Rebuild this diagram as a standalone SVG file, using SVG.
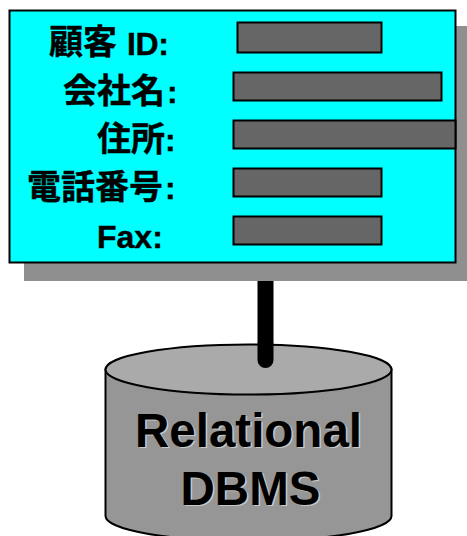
<svg xmlns="http://www.w3.org/2000/svg" width="467" height="536" viewBox="0 0 467 536">
<style>
.f{fill:#666;stroke:#000;stroke-width:2}
.l{font-family:"Liberation Sans","Noto Sans CJK JP",sans-serif;font-weight:bold;font-size:34px;fill:#000;stroke:#000;stroke-width:.4}
.a{font-size:32px}
.d{font-family:"Liberation Sans",sans-serif;font-weight:bold;font-size:47.500px;text-anchor:middle}
</style>
<rect width="467" height="536" fill="#fff"/>
<g id="connectors">
<path d="M265.500 270V360" fill="none" stroke="#000" stroke-width="16" stroke-linecap="round"/>
</g>
<g id="form">
<rect x="24" y="26" width="443" height="255" fill="#8f8f8f"/>
<rect x="9.500" y="10.500" width="446" height="252" fill="#0ff" stroke="#000" stroke-width="2"/>
</g>
<g id="fields">
<rect class="f" x="237.500" y="22.500" width="144" height="30"/>
<rect class="f" x="233.500" y="72.500" width="208" height="28"/>
<rect class="f" x="233.500" y="120.500" width="222" height="28"/>
<rect class="f" x="233.500" y="168.500" width="148" height="28"/>
<rect class="f" x="233.500" y="216.500" width="148" height="28"/>
</g>
<g id="labels">
<text class="l" x="49" y="54">顧客<tspan class="a" x="127" y="55" textLength="42">ID:</tspan></text>
<text class="l" x="63" y="103">会社名<tspan class="a" x="167">:</tspan></text>
<text class="l" x="97" y="151">住所<tspan class="a" x="165">:</tspan></text>
<text class="l" x="27" y="199">電話番号<tspan class="a" x="165">:</tspan></text>
<text class="l" x="97" y="248" style="font-size:32px">Fax:</text>
</g>
<g id="database">
<path d="M105.500 369.500V516a143 25 0 0 0 286 0V369.500Z" fill="#969696" stroke="#000" stroke-width="2"/>
<ellipse cx="248.500" cy="369.500" rx="143" ry="25" fill="#aaa" stroke="#000" stroke-width="2"/>
<path d="M265.500 345V360" fill="none" stroke="#000" stroke-width="16" stroke-linecap="round"/>
<g class="d">
<text x="250" y="448" fill="#c8c8c8">Relational</text>
<text x="252" y="506" fill="#c8c8c8">DBMS</text>
<text x="248.500" y="446.500" fill="#000">Relational</text>
<text x="250.500" y="504.500" fill="#000">DBMS</text>
</g>
</g>
</svg>
